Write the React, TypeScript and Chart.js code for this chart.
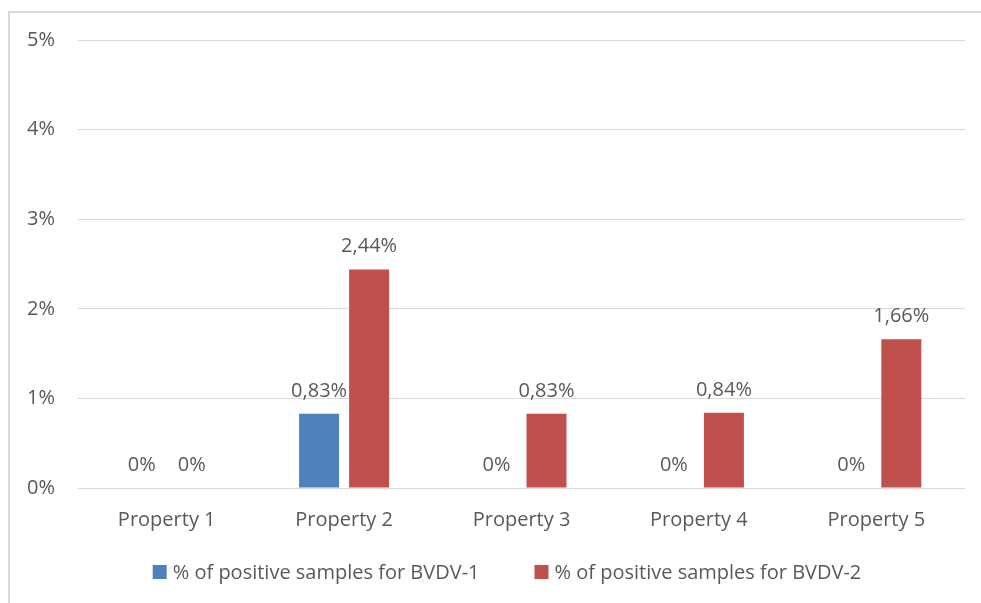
import React, { useEffect, useRef } from "react";
import { Chart, registerables } from "chart.js";

Chart.register(...registerables);

const categories = ["Property 1", "Property 2", "Property 3", "Property 4", "Property 5"];
const bvdv1 = [0, 0.83, 0, 0, 0];
const bvdv2 = [0, 2.44, 0.83, 0.84, 1.66];
const seriesLabels = ["% of positive samples for BVDV-1", "% of positive samples for BVDV-2"];
const yTicks = [0, 1, 2, 3, 4, 5];

const FONT = "'Open Sans', sans-serif";
const TEXT = "#595959";

function fmt(v: number) {
  return v === 0 ? "0%" : v.toFixed(2).replace(".", ",") + "%";
}

const framePlugin = {
  id: "frame",
  beforeDraw(chart: any) {
    const ctx = chart.ctx;
    ctx.save();
    ctx.fillStyle = "#ffffff";
    ctx.fillRect(0, 0, chart.width, chart.height);
    ctx.strokeStyle = "#d9d9d9";
    ctx.lineWidth = 2;
    ctx.beginPath();
    ctx.moveTo(9, chart.height);
    ctx.lineTo(9, 12);
    ctx.lineTo(chart.width, 12);
    ctx.stroke();
    ctx.restore();
  },
};

const labelPlugin = {
  id: "barLabels",
  afterDatasetsDraw(chart: any) {
    const ctx = chart.ctx;
    ctx.save();
    ctx.font = `20px ${FONT}`;
    ctx.fillStyle = TEXT;
    ctx.textAlign = "center";
    ctx.textBaseline = "alphabetic";
    chart.data.datasets.forEach((ds: any, di: number) => {
      const meta = chart.getDatasetMeta(di);
      meta.data.forEach((el: any, i: number) => {
        ctx.fillText(fmt(ds.data[i]), el.x, el.y - 17);
      });
    });
    ctx.restore();
  },
};

const legendPlugin = {
  id: "customLegend",
  afterDraw(chart: any) {
    const ctx = chart.ctx;
    ctx.save();
    ctx.font = `20px ${FONT}`;
    ctx.textBaseline = "alphabetic";
    ctx.textAlign = "left";
    const box = 14;
    const gapText = 6;
    const gapItem = 55;
    const items = chart.data.datasets.map((ds: any) => ({
      text: ds.label,
      color: ds.backgroundColor,
      w: box + gapText + ctx.measureText(ds.label).width,
    }));
    const total = items.reduce((s: number, it: any) => s + it.w, 0) + gapItem * (items.length - 1);
    const center = (chart.chartArea.left - 29 + chart.chartArea.right) / 2;
    let x = center - total / 2;
    const baseline = chart.chartArea.bottom + 91;
    items.forEach((it: any) => {
      ctx.fillStyle = it.color;
      ctx.fillRect(x, baseline - 14, box, box);
      ctx.fillStyle = TEXT;
      ctx.fillText(it.text, x + box + gapText, baseline);
      x += it.w + gapItem;
    });
    ctx.restore();
  },
};

export default function App() {
  const ref = useRef<HTMLCanvasElement | null>(null);
  useEffect(() => {
    if (!ref.current) return;
    const chart = new Chart(ref.current, {
      type: "bar",
      data: {
        labels: categories,
        datasets: [
          { label: seriesLabels[0], data: bvdv1, backgroundColor: "#4F81BD", barPercentage: 0.8, categoryPercentage: 0.564 },
          { label: seriesLabels[1], data: bvdv2, backgroundColor: "#C0504D", barPercentage: 0.8, categoryPercentage: 0.564 },
        ],
      },
      options: {
        animation: false,
        responsive: false,
        maintainAspectRatio: false,
        layout: { padding: { left: 0, right: 16, top: 40, bottom: 70 } },
        plugins: {
          legend: { display: false },
          tooltip: { enabled: false },
        },
        scales: {
          x: {
            grid: { display: false, drawTicks: false },
            border: { display: false },
            ticks: { color: TEXT, font: { family: FONT, size: 20 }, padding: 20 },
            afterFit: (s: any) => { s.height = 45; },
          },
          y: {
            min: 0,
            max: 5,
            afterBuildTicks: (s: any) => { s.ticks = yTicks.map((v) => ({ value: v })); },
            grid: { color: "#d9d9d9", lineWidth: 1, drawTicks: false },
            border: { display: false },
            ticks: { color: TEXT, font: { family: FONT, size: 20 }, padding: 23, callback: (v: any) => v + "%" },
            afterFit: (s: any) => { s.width = 78; },
          },
        },
      },
      plugins: [framePlugin, labelPlugin, legendPlugin],
    });
    return () => chart.destroy();
  }, []);
  return (
    <div style={{ position: "fixed", left: 0, top: 0, width: 981, height: 603, background: "#fff", overflow: "hidden" }}>
      <canvas ref={ref} width={981} height={603} style={{ display: "block", position: "absolute", left: 0, top: 0 }} />
    </div>
  );
}
